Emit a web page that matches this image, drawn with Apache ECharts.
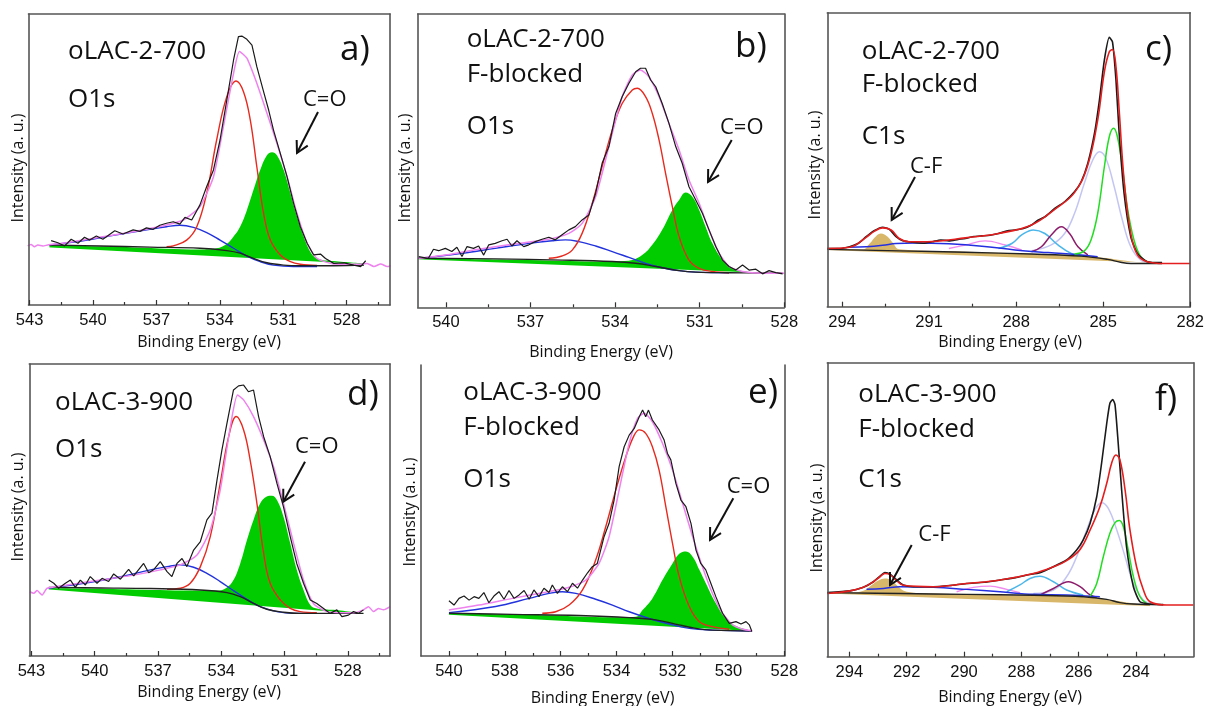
<!DOCTYPE html>
<html><head><meta charset="utf-8">
<script src="https://cdn.jsdelivr.net/npm/echarts@6/dist/echarts.min.js"></script>
<style>html,body{margin:0;padding:0;background:#fff}#c{width:1207px;height:706px}</style>
</head><body><div id="c"></div><script>
// ---------- tick labels ----------
const majorAD = [543, 540, 537, 534, 531, 528];
const minorAD = [541.5, 538.5, 535.5, 532.5, 529.5, 526.5];
const majorB = [540, 537, 534, 531, 528];
const minorB = [538.5, 535.5, 532.5, 529.5];
const majorC = [294, 291, 288, 285, 282];
const minorC = [292.5, 289.5, 286.5, 283.5];
const majorE = [540, 538, 536, 534, 532, 530, 528];
const minorE = [539, 537, 535, 533, 531, 529];
const majorF = [294, 292, 290, 288, 286, 284];
const minorF = [293, 291, 289, 287, 285, 283];

// ---------- panel a (O1s, oLAC-2-700) [binding energy eV, intensity a.u.] ----------
const a_raw = [[541.98,22.1],[541.66,21.4],[541.34,20.3],[541.03,22.6],[540.71,21.2],[540.40,23.3],[540.16,22.3],[539.84,23.7],[539.53,22.6],[538.97,25.5],[538.58,24.4],[538.10,25.8],[537.78,25.3],[537.47,26.5],[537.15,26.0],[536.84,27.4],[536.52,28.1],[536.20,28.6],[535.89,27.8],[535.65,30.1],[535.33,29.2],[534.94,34.4],[534.62,40.7],[534.30,46.4],[533.99,56.7],[533.67,70.4],[533.35,84.2],[533.12,92.2],[532.96,92.4],[532.72,91.3],[532.48,89.3],[532.25,81.9],[531.93,73.3],[531.69,67.0],[531.46,60.1],[531.14,52.1],[530.82,44.1],[530.51,34.9],[530.19,26.9],[529.87,21.2],[529.56,17.2],[529.24,17.5],[529.00,16.0],[528.61,14.3],[528.13,14.5],[527.66,13.7],[527.34,13.2],[527.10,15.2]];
const a_env = [[543.09,20.3],[542.93,20.8],[542.77,20.0],[542.61,20.6],[542.37,20.3],[542.14,20.6],[541.27,21.4],[539.68,23.3],[538.10,25.2],[536.52,27.5],[535.73,29.2],[534.94,33.8],[534.30,44.1],[533.83,61.3],[533.35,79.6],[533.07,87.1],[532.72,84.8],[532.25,76.2],[531.77,65.9],[531.30,55.6],[530.82,44.1],[530.35,31.5],[529.87,21.2],[529.40,16.0],[528.61,14.1],[527.34,14.0],[527.03,14.3],[526.71,13.2],[526.39,14.1],[526.08,13.2],[525.92,13.5]];
const a_main = [[536.52,20.0],[536.20,20.3],[535.57,22.3],[535.09,26.9],[534.62,38.4],[534.15,56.7],[533.67,71.6],[533.23,77.0],[532.88,73.3],[532.56,63.6],[532.25,47.5],[531.93,31.5],[531.61,22.3],[531.14,17.2],[530.66,14.9],[530.19,14.0],[529.40,13.6]];
const a_broad = [[542.06,20.6],[540.47,22.1],[538.89,24.1],[537.31,26.0],[536.52,26.9],[535.89,27.4],[535.25,26.7],[534.62,24.9],[533.99,22.3],[533.35,19.5],[532.72,16.8],[532.09,14.9],[531.46,13.7],[530.51,13.2],[529.40,13.2]];
const a_bg = [[542.06,20.6],[539.68,20.3],[537.31,19.9],[534.94,19.5],[533.67,18.7],[533.04,17.8],[532.41,16.0],[531.77,14.5],[530.98,13.7],[530.19,13.5],[528.61,13.5],[527.18,13.7]];
const a_co = [[542.06,20.5],[538.10,19.8],[534.94,19.1],[534.15,19.5],[533.67,21.0],[533.35,23.5],[533.04,26.9],[532.72,32.6],[532.41,39.5],[532.09,46.4],[531.77,51.5],[531.53,52.5],[531.30,51.5],[530.98,46.4],[530.66,38.4],[530.35,30.4],[530.03,23.5],[529.72,18.3],[529.40,16.0],[528.61,15.1],[527.18,14.3]];
const a_coBase = [[542.2,19.85],[527.0,14.03]];

// ---------- panel b (O1s, oLAC-2-700 F-blocked) ----------
const b_raw = [[540.97,17.3],[540.62,16.7],[540.44,19.8],[540.26,19.3],[540.02,20.1],[539.79,19.0],[539.61,20.5],[539.43,17.3],[539.25,20.7],[539.02,20.1],[538.84,20.9],[538.66,17.8],[538.48,21.3],[538.25,21.8],[538.01,22.7],[537.83,23.2],[537.66,20.9],[537.48,22.7],[537.24,20.7],[537.06,21.3],[536.83,22.4],[536.59,23.2],[536.35,23.9],[536.12,23.0],[535.88,24.7],[535.64,26.4],[535.41,27.5],[535.17,29.8],[534.93,31.5],[534.69,38.9],[534.46,49.1],[534.22,54.8],[533.98,66.1],[533.75,71.8],[533.51,76.4],[533.27,80.3],[533.10,81.5],[532.92,81.5],[532.74,77.5],[532.56,75.2],[532.33,69.5],[532.09,62.7],[531.85,54.8],[531.62,49.1],[531.38,41.1],[531.14,36.6],[530.90,32.0],[530.67,26.4],[530.43,20.7],[530.19,16.1],[529.96,13.9],[529.72,12.7],[529.48,14.4],[529.25,12.7],[529.01,13.0],[528.77,11.4],[528.54,12.5],[528.30,11.8],[528.06,11.4]];
const b_env = [[540.97,16.7],[540.02,17.8],[538.84,19.8],[537.66,21.5],[536.47,23.0],[535.64,25.2],[535.17,28.6],[534.69,37.7],[534.22,54.8],[533.75,71.8],[533.39,79.2],[533.10,80.9],[532.80,78.6],[532.44,71.8],[532.09,62.7],[531.73,53.6],[531.38,43.4],[531.02,35.5],[530.67,26.4],[530.31,18.4],[529.96,13.9],[529.48,12.2],[528.77,11.6],[528.0,11.6]];
const b_main = [[536.35,16.7],[535.88,17.5],[535.52,19.5],[535.17,25.2],[534.81,35.5],[534.46,48.0],[534.10,60.5],[533.75,69.5],[533.39,74.1],[533.21,74.7],[532.92,71.8],[532.68,66.1],[532.44,57.0],[532.21,45.7],[531.97,34.3],[531.73,24.1],[531.38,16.1],[531.02,13.3],[530.55,12.2],[529.96,11.8]];
const b_broad = [[540.97,16.7],[539.43,18.4],[538.25,20.1],[537.06,21.8],[536.23,22.7],[535.76,23.0],[535.29,22.4],[534.69,20.9],[534.10,19.0],[533.51,17.0],[532.92,15.0],[532.33,13.5],[531.73,12.5],[531.14,12.0],[529.96,11.8]];
const b_bg = [[540.97,16.7],[538.25,16.5],[535.88,16.1],[534.10,15.6],[533.27,15.0],[532.56,13.9],[531.73,12.5],[531.14,12.0],[529.96,11.8],[528.06,11.6]];
const b_co = [[540.97,16.6],[537.06,16.1],[534.69,15.6],[533.51,15.9],[533.04,17.8],[532.68,21.3],[532.33,26.4],[531.97,33.2],[531.73,36.6],[531.50,39.1],[531.26,37.7],[531.02,33.2],[530.79,27.5],[530.55,21.8],[530.19,16.1],[529.84,13.3],[529.37,12.2],[529.01,11.8]];
const b_coBase = [[541.1,16.45],[528.85,11.74]];

// ---------- panel c (C1s, oLAC-2-700 F-blocked) ----------
const c_raw = [[294.51,19.8],[294.08,19.8],[293.74,20.4],[293.45,21.5],[293.17,23.8],[292.88,25.9],[292.60,27.0],[292.37,26.3],[292.14,23.8],[291.91,22.4],[291.57,21.9],[291.20,21.6],[290.89,22.1],[290.60,22.7],[290.32,22.4],[290.00,22.9],[289.75,23.2],[289.45,23.9],[289.18,24.1],[288.90,24.3],[288.61,24.9],[288.30,25.8],[288.04,26.1],[287.75,26.6],[287.47,27.8],[287.25,29.4],[287.01,30.6],[286.67,33.4],[286.33,35.7],[285.99,39.1],[285.76,42.5],[285.53,48.8],[285.30,59.0],[285.13,70.3],[284.96,83.9],[284.79,91.6],[284.68,90.1],[284.56,77.1],[284.45,59.0],[284.28,38.5],[284.05,23.8],[283.82,18.1],[283.48,15.3],[282.97,15.0]];
const c_env = [[294.51,19.8],[293.74,20.2],[293.17,23.6],[292.88,25.7],[292.60,26.8],[292.31,26.1],[292.03,23.2],[291.69,22.1],[290.89,22.2],[289.75,23.4],[288.61,24.9],[287.47,27.8],[286.67,33.1],[285.99,38.8],[285.53,48.2],[285.19,63.5],[284.96,79.9],[284.79,86.7],[284.68,87.5],[284.56,81.6],[284.45,66.9],[284.28,43.1],[284.05,24.9],[283.82,17.6],[283.48,15.3],[282.91,14.7],[282.0,14.7]];
const c_cc = [[285.99,17.9],[285.65,19.0],[285.42,22.7],[285.19,31.7],[284.96,47.6],[284.79,57.8],[284.64,60.7],[284.51,57.8],[284.34,47.6],[284.17,34.0],[283.94,22.7],[283.71,17.0],[283.48,15.3]];
const c_ch = [[287.47,19.0],[286.79,21.0],[286.33,24.9],[285.99,31.7],[285.65,42.0],[285.36,49.9],[285.13,52.7],[284.91,50.5],[284.62,40.8],[284.34,29.5],[284.05,20.4],[283.71,15.9],[283.37,15.0]];
const c_co = [[287.47,18.7],[287.13,20.4],[286.79,24.4],[286.44,27.2],[286.16,24.9],[285.87,20.4],[285.53,17.6]];
const c_coo = [[288.61,19.8],[288.15,21.5],[287.81,24.4],[287.41,26.1],[287.01,24.9],[286.56,21.0],[286.10,18.1],[285.65,17.2]];
const c_sat = [[290.32,19.8],[289.75,21.0],[289.07,22.4],[288.38,21.0],[287.81,19.3]];
const c_broad = [[293.74,20.2],[293.17,20.4],[292.60,20.9],[292.14,21.5],[291.46,21.7],[290.32,21.4],[289.18,20.6],[288.04,19.3],[286.90,18.4],[285.76,17.6],[285.19,17.0]];
const c_cf = [[294.51,19.5],[293.28,19.5],[293.05,21.5],[292.83,24.0],[292.66,24.9],[292.43,23.8],[292.26,21.8],[292.03,19.5],[289.75,18.7],[287.47,17.9],[285.19,16.8],[284.05,15.4],[283.48,15.0]];
const c_cfBase = [[294.6,19.33],[283.35,14.95]];
const c_bg = [[294.51,19.5],[292.03,19.0],[289.75,18.5],[287.47,17.9],[285.76,17.2],[284.85,16.1],[284.40,15.1],[284.05,14.7],[282.97,14.7]];

// ---------- panel d (O1s, oLAC-3-900) ----------
const d_raw = [[542.18,26.0],[541.94,24.9],[541.71,23.2],[541.39,24.9],[541.15,26.0],[540.92,23.5],[540.68,26.0],[540.44,24.3],[540.21,27.2],[539.89,24.9],[539.65,26.6],[539.34,25.5],[539.10,28.1],[538.78,26.3],[538.39,29.7],[538.15,27.4],[537.68,31.7],[537.44,28.5],[537.21,29.5],[536.89,32.3],[536.57,28.9],[536.34,27.2],[536.10,31.7],[535.86,33.4],[535.63,30.6],[535.31,36.3],[534.99,39.2],[534.68,46.6],[534.44,48.9],[534.20,60.3],[533.97,70.5],[533.73,79.7],[533.42,91.1],[533.18,92.5],[532.94,92.8],[532.71,90.5],[532.47,91.1],[532.23,82.0],[531.99,75.1],[531.68,68.3],[531.36,59.1],[531.05,51.1],[530.73,40.9],[530.42,31.7],[530.10,24.9],[529.78,19.2],[529.47,18.0],[529.15,16.3],[528.84,14.6],[528.52,15.8],[528.28,13.5],[527.97,14.0],[527.73,15.2],[527.49,14.6],[527.26,15.8]];
const d_env = [[543.08,22.0],[542.89,21.5],[542.73,22.4],[542.49,20.9],[542.26,23.2],[541.31,24.3],[539.73,26.0],[538.15,27.7],[536.89,29.5],[535.94,31.2],[535.15,34.6],[534.52,43.2],[534.05,56.8],[533.57,78.5],[533.23,89.4],[532.94,87.7],[532.47,82.0],[531.99,74.0],[531.52,64.8],[531.05,52.3],[530.57,38.6],[530.10,26.0],[529.63,18.0],[528.99,15.2],[527.73,14.8],[527.26,15.8],[527.02,16.9],[526.78,15.2],[526.55,16.3],[526.31,15.8],[525.99,16.9]];
const d_main = [[536.57,22.8],[535.94,23.2],[535.47,24.9],[534.99,30.6],[534.52,40.9],[534.05,59.1],[533.65,75.1],[533.29,82.0],[532.94,77.4],[532.63,67.1],[532.31,52.3],[531.99,35.2],[531.68,24.9],[531.20,19.2],[530.73,16.3],[530.26,15.2],[529.47,14.8]];
const d_broad = [[542.18,23.2],[540.52,24.9],[538.94,26.9],[537.36,29.5],[536.57,30.6],[535.94,31.2],[535.31,30.4],[534.68,28.3],[534.05,25.5],[533.42,22.4],[532.78,19.4],[532.15,16.9],[531.36,15.2],[530.57,14.6],[529.47,14.6]];
const d_bg = [[542.18,23.5],[539.73,23.3],[537.36,23.1],[534.99,22.6],[533.73,21.7],[533.10,20.3],[532.47,18.0],[531.84,16.0],[531.05,15.0],[530.26,14.6],[528.68,14.6],[527.26,14.6]];
const d_co = [[542.18,23.3],[538.15,22.8],[534.99,22.4],[534.20,22.4],[533.73,23.5],[533.42,26.0],[533.10,31.7],[532.78,39.7],[532.47,46.6],[532.15,52.3],[531.84,54.6],[531.60,54.9],[531.36,53.4],[531.05,47.7],[530.73,38.6],[530.42,29.5],[530.10,22.6],[529.78,17.5],[529.47,16.3],[528.68,15.8],[527.26,14.6]];
const d_coBase = [[542.3,22.87],[527.1,14.31]];

// ---------- panel e (O1s, oLAC-3-900 F-blocked) ----------
const e_raw = [[540.00,19.0],[539.82,17.5],[539.64,19.8],[539.46,20.6],[539.28,19.2],[539.10,20.4],[538.93,19.8],[538.75,21.8],[538.57,18.3],[538.39,20.6],[538.21,22.1],[538.03,19.5],[537.85,22.5],[537.67,19.8],[537.49,21.0],[537.31,22.5],[537.13,19.5],[536.96,22.7],[536.78,20.4],[536.60,23.3],[536.42,21.8],[536.30,24.4],[536.12,21.5],[535.94,23.8],[535.76,22.1],[535.58,25.0],[535.40,23.3],[535.22,26.1],[535.04,28.6],[534.87,30.7],[534.69,31.8],[534.45,41.0],[534.27,45.6],[534.09,53.6],[533.91,65.1],[533.73,71.9],[533.55,75.9],[533.37,78.2],[533.19,82.2],[533.07,84.5],[532.96,82.2],[532.86,84.5],[532.72,81.1],[532.48,77.7],[532.30,74.2],[532.18,69.6],[532.06,67.4],[531.88,59.3],[531.70,53.6],[531.52,51.3],[531.34,45.6],[531.16,36.4],[530.99,31.8],[530.81,29.6],[530.63,25.0],[530.45,20.4],[530.21,14.7],[529.97,11.2],[529.73,11.8],[529.55,11.0],[529.37,11.8],[529.25,10.7],[529.16,8.4]];
const e_env = [[540.00,15.8],[538.93,17.5],[537.73,19.8],[536.54,21.9],[535.70,23.6],[535.10,26.1],[534.63,31.8],[534.27,41.0],[533.91,57.0],[533.55,73.1],[533.25,81.7],[533.01,83.4],[532.72,80.5],[532.36,73.1],[532.00,63.9],[531.64,52.5],[531.28,41.0],[530.93,30.7],[530.57,21.5],[530.21,14.7],[529.85,10.7],[529.49,9.2],[529.16,8.7]];
const e_main = [[536.66,14.7],[536.18,15.2],[535.70,17.5],[535.22,22.7],[534.75,33.0],[534.39,44.4],[534.03,57.0],[533.67,68.5],[533.37,75.9],[533.19,77.7],[532.96,76.5],[532.72,71.9],[532.48,63.9],[532.24,51.3],[532.00,38.7],[531.76,27.3],[531.40,17.0],[531.04,11.8],[530.57,10.1],[529.97,9.2]];
const e_broad = [[540.0,14.9],[538.33,17.0],[537.13,19.8],[536.42,21.5],[535.94,22.1],[535.46,21.5],[534.75,19.5],[534.15,17.5],[533.55,15.2],[532.84,12.9],[532.12,11.0],[531.40,9.5],[530.57,8.9],[529.16,8.6]];
const e_bg = [[540.0,14.7],[537.73,14.3],[535.34,13.9],[533.55,13.2],[532.60,12.4],[531.76,10.7],[531.16,9.5],[530.57,8.9],[529.16,8.6]];
const e_co = [[540.0,14.7],[536.54,14.0],[534.15,13.3],[533.31,13.5],[533.07,15.8],[532.72,19.8],[532.36,26.1],[532.00,31.8],[531.76,35.1],[531.52,35.9],[531.28,34.1],[531.04,29.6],[530.81,25.0],[530.45,18.1],[530.09,12.9],[529.73,10.3],[529.16,8.7]];
const e_coBase = [[540.15,14.28],[529.0,8.52]];

// ---------- panel f (C1s, oLAC-3-900 F-blocked) ----------
const f_raw = [[294.77,21.8],[293.98,22.4],[293.51,23.6],[293.16,25.5],[292.93,27.4],[292.76,28.6],[292.58,28.1],[292.35,26.1],[292.12,24.4],[291.77,23.8],[291.07,23.8],[290.50,24.2],[289.91,24.9],[289.30,25.3],[288.74,26.1],[288.20,26.9],[287.81,27.8],[287.35,28.6],[286.88,30.6],[286.42,32.9],[286.07,36.3],[285.84,39.7],[285.60,45.4],[285.37,54.4],[285.20,65.8],[285.02,79.4],[284.91,86.2],[284.81,87.5],[284.73,85.6],[284.62,72.6],[284.50,56.7],[284.33,37.4],[284.09,23.8],[283.86,18.7],[283.51,17.9],[283.05,17.7]];
const f_env = [[294.77,21.5],[293.98,22.4],[293.51,23.6],[293.16,25.5],[292.93,27.2],[292.76,28.3],[292.58,27.9],[292.35,25.9],[292.12,24.3],[291.07,23.8],[289.91,24.9],[288.74,26.1],[287.58,28.3],[286.88,30.6],[286.42,32.7],[285.95,36.5],[285.60,43.1],[285.26,51.0],[285.02,59.0],[284.85,65.8],[284.70,68.6],[284.56,66.9],[284.38,56.7],[284.21,43.1],[283.98,30.6],[283.74,22.7],[283.51,18.7],[282.93,17.6],[282.0,17.6]];
const f_cc = [[285.60,20.6],[285.37,24.9],[285.14,34.0],[284.91,42.0],[284.73,45.6],[284.58,46.3],[284.44,44.2],[284.27,36.3],[284.09,27.2],[283.86,20.4],[283.63,18.1]];
const f_ch = [[287.58,21.5],[286.88,22.7],[286.42,27.2],[286.07,34.0],[285.72,43.1],[285.43,50.1],[285.20,52.4],[284.97,50.5],[284.67,43.1],[284.38,34.0],[284.09,24.9],[283.74,19.3],[283.40,18.1]];
const f_co = [[287.35,21.0],[286.88,23.2],[286.36,25.5],[285.95,23.8],[285.60,21.0],[285.37,20.2]];
const f_coo = [[288.51,22.1],[288.05,24.4],[287.70,26.6],[287.35,27.4],[286.88,25.5],[286.42,22.7],[285.84,21.0]];
const f_sat = [[290.26,22.1],[289.67,23.6],[289.09,24.0],[288.51,22.9],[288.05,21.8]];
const f_broad = [[293.40,22.9],[292.81,23.2],[292.23,23.8],[291.07,23.6],[289.91,22.9],[288.74,22.1],[287.58,21.2],[286.42,21.0],[285.26,20.4]];
const f_cf = [[294.77,21.7],[293.98,21.8],[293.51,22.4],[293.22,24.4],[292.99,25.9],[292.76,26.6],[292.52,25.9],[292.29,23.8],[292.00,22.1],[291.07,21.5],[288.74,21.0],[286.42,20.6],[285.26,19.8],[284.67,19.0],[284.09,18.1],[283.51,17.7]];
const f_cfBase = [[294.9,21.55],[283.35,17.14]];
const f_bg = [[294.77,21.8],[292.23,21.5],[289.91,21.2],[287.58,20.9],[285.84,20.4],[285.02,19.5],[284.56,18.4],[284.09,17.9],[283.05,17.7]];

// ---------- styling / layout ----------
const FONT = "'Open Sans', 'Noto Sans', sans-serif";
const TICKFONT = "'Liberation Sans', Arial, sans-serif";
const FRAME = '#555555';
const panels = [
  {grid:{left:28.5, top:14, width:361.5, height:291}, xr:[525.95,543.05], major:majorAD, minor:minorAD, top:true, kind:'O',
   d:{raw:a_raw, env:a_env, main:a_main, broad:a_broad, bg:a_bg, fill:a_co, base:a_coBase}},
  {grid:{left:417.7, top:14, width:366.6, height:293.3}, xr:[528,541], major:majorB, minor:minorB, top:true, kind:'O',
   d:{raw:b_raw, env:b_env, main:b_main, broad:b_broad, bg:b_bg, fill:b_co, base:b_coBase}},
  {grid:{left:827.3, top:12.7, width:366, height:294}, xr:[282,294.51], major:majorC, minor:minorC, top:true, kind:'C',
   d:{raw:c_raw, env:c_env, cc:c_cc, ch:c_ch, co:c_co, coo:c_coo, sat:c_sat, broad:c_broad, fill:c_cf, base:c_cfBase, bg:c_bg}},
  {grid:{left:29.3, top:364, width:360.7, height:292}, xr:[526.0,543.1], major:majorAD, minor:minorAD, top:true, kind:'O',
   d:{raw:d_raw, env:d_env, main:d_main, broad:d_broad, bg:d_bg, fill:d_co, base:d_coBase}},
  {grid:{left:421, top:365, width:363.3, height:291}, xr:[528,541], major:majorE, minor:minorE, top:false, kind:'O',
   d:{raw:e_raw, env:e_env, main:e_main, broad:e_broad, bg:e_bg, fill:e_co, base:e_coBase}},
  {grid:{left:827.3, top:362.7, width:366, height:294}, xr:[282,294.77], major:majorF, minor:minorF, top:true, kind:'C',
   d:{raw:f_raw, env:f_env, cc:f_cc, ch:f_ch, co:f_co, coo:f_coo, sat:f_sat, broad:f_broad, fill:f_cf, base:f_cfBase, bg:f_bg}}
];

const grids = [], xAxes = [], yAxes = [], series = [];
const lineStyleFrame = {color: FRAME, width: 1.6};
panels.forEach((p, i) => {
  grids.push(Object.assign({show:false}, p.grid));
  const xi = xAxes.length, yi = yAxes.length;
  const base = {gridIndex:i, type:'value', min:p.xr[0], max:p.xr[1], inverse:true, splitLine:{show:false}, z:10};
  xAxes.push(Object.assign({}, base, {position:'bottom',
    axisLine:{show:true, onZero:false, lineStyle:lineStyleFrame},
    axisTick:{show:true, inside:true, length:5, customValues:p.major, lineStyle:{color:'#333', width:1.2}},
    axisLabel:{show:true, customValues:p.major, showMinLabel:true, showMaxLabel:true, hideOverlap:false, color:'#111', fontSize:16.5, fontFamily:TICKFONT, margin:7}}));
  xAxes.push(Object.assign({}, base, {position:'bottom',
    axisLine:{show:false, onZero:false},
    axisTick:{show:true, inside:true, length:3, customValues:p.minor, lineStyle:{color:'#333', width:1.2}},
    axisLabel:{show:false}}));
  xAxes.push(Object.assign({}, base, {position:'top',
    axisLine:{show:p.top, onZero:false, lineStyle:lineStyleFrame},
    axisTick:{show:false}, axisLabel:{show:false}}));
  const yb = {gridIndex:i, type:'value', min:0, max:100, splitLine:{show:false}, axisTick:{show:false}, axisLabel:{show:false}, z:10,
              axisLine:{show:true, onZero:false, lineStyle:lineStyleFrame}};
  yAxes.push(Object.assign({}, yb, {position:'left'}));
  yAxes.push(Object.assign({}, yb, {position:'right'}));

  const common = {xAxisIndex:xi, yAxisIndex:yi, type:'line', symbol:'none', showSymbol:false, silent:true, animation:false};
  const area = (data, color) => Object.assign({}, common, {data, smooth:0.4, lineStyle:{width:0, color}, areaStyle:{color, opacity:1}});
  const line = (data, color, width, smooth) => Object.assign({}, common, {data, smooth: smooth === undefined ? 0.4 : smooth, lineStyle:{color, width}});
  const d = p.d;
  if (p.kind === 'O') {
    series.push(area(d.fill, '#00cc00'));
    series.push(Object.assign(area(d.base, '#ffffff'), {smooth:false}));
    series.push(line(d.broad, '#2233dd', 1.4));
    series.push(line(d.main, '#e82a1e', 1.4));
    series.push(line(d.bg, '#222222', 1.4));
    series.push(line(d.env, '#ee82ee', 1.5, 0.2));
    series.push(line(d.raw, '#1a1a1a', 1.2, false));
  } else {
    series.push(area(d.fill, '#d9b76a'));
    series.push(Object.assign(area(d.base, '#ffffff'), {smooth:false}));
    series.push(line(d.ch, '#c4c6f2', 1.5));
    series.push(line(d.sat, '#f08cf0', 1.4));
    series.push(line(d.coo, '#4bb6ea', 1.5));
    series.push(line(d.co, '#8c1c6a', 1.5));
    series.push(line(d.broad, '#2430e0', 1.5));
    series.push(line(d.cc, '#22dd22', 1.5));
    series.push(line(d.bg, '#222222', 1.4));
    series.push(line(d.raw, '#1a1a1a', 1.6, 0.2));
    series.push(line(d.env, '#e41e1e', 1.6));
  }
});

// ---------- annotations ----------
const g = [];
function txt(t, x, y, size, align, rot) {
  g.push({type:'text', x, y, rotation: rot || 0, z:100,
    style:{text:t, font: size + 'px ' + FONT, fill:'#111', textAlign: align || 'left', textVerticalAlign:'middle', align: align || 'left', verticalAlign:'middle'}});
}
function arrow(x0, y0, x1, y1) {
  const a = Math.atan2(y1 - y0, x1 - x0), L = 13, s = 0.5;
  const h1 = [x1 - L*Math.cos(a - s), y1 - L*Math.sin(a - s)], h2 = [x1 - L*Math.cos(a + s), y1 - L*Math.sin(a + s)];
  g.push({type:'polyline', z:100, shape:{points:[[x0,y0],[x1,y1]]}, style:{stroke:'#111', lineWidth:2, fill:null}});
  g.push({type:'polyline', z:100, shape:{points:[h1,[x1,y1],h2]}, style:{stroke:'#111', lineWidth:2, fill:null}});
}
// panel a
txt('oLAC-2-700', 68, 52, 26); txt('O1s', 68, 100, 26); txt('a)', 340, 50, 35); txt('C=O', 303, 100, 22); arrow(318, 112, 297, 153);
// panel b
txt('oLAC-2-700', 466.7, 40, 26); txt('F-blocked', 466.7, 75, 26); txt('O1s', 466.7, 127, 26); txt('b)', 735, 47, 35); txt('C=O', 720, 128, 22); arrow(731.7, 140, 708, 182);
// panel c
txt('oLAC-2-700', 861.7, 52, 26); txt('F-blocked', 861.7, 85, 26); txt('C1s', 861.7, 137, 26); txt('c)', 1145, 50, 35); txt('C-F', 910, 167, 22); arrow(915, 177, 891.7, 220);
// panel d
txt('oLAC-3-900', 55, 403, 26); txt('O1s', 55, 450, 26); txt('d)', 347, 395, 35); txt('C=O', 295, 447, 22); arrow(305, 461.7, 283.3, 501.7);
// panel e
txt('oLAC-3-900', 463.3, 393, 26); txt('F-blocked', 463.3, 428, 26); txt('O1s', 463.3, 480, 26); txt('e)', 748, 393, 35); txt('C=O', 726.7, 487, 22); arrow(733.3, 498.3, 710, 540);
// panel f
txt('oLAC-3-900', 858.3, 395, 26); txt('F-blocked', 858.3, 430, 26); txt('C1s', 858.3, 480, 26); txt('f)', 1155, 400, 35); txt('C-F', 918.3, 535, 22); arrow(911.7, 545, 890, 585);
// axis titles
[[209,342],[601,352],[1010,342],[209,692],[602.5,698],[1010,697]].forEach(([x,y]) => txt('Binding Energy (eV)', x, y, 16, 'center'));
[[18,168],[405,168],[815,165],[18,507],[410,512],[817,518]].forEach(([x,y]) => txt('Intensity (a. u.)', x, y, 16, 'center', Math.PI/2));

const chart = echarts.init(document.getElementById('c'), null, {renderer:'canvas'});
chart.setOption({
  animation:false, backgroundColor:'#ffffff',
  grid:grids, xAxis:xAxes, yAxis:yAxes, series, graphic:{elements:g}
});
</script></body></html>
